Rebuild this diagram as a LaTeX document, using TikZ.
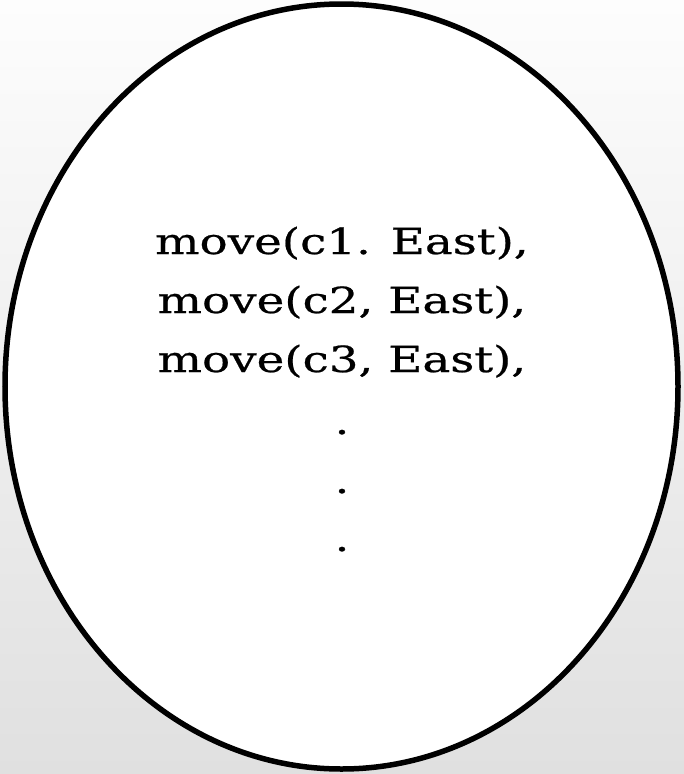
\documentclass[tikz,border=0pt]{standalone}
\usepackage{fontspec}
\setmainfont[FakeStretch=1.3,FakeBold=0.6]{DejaVu Serif}
\usetikzlibrary{shapes.geometric}
\begin{document}
\begin{tikzpicture}[x=1pt,y=-1pt,
  txt/.style={font=\fontsize{36}{40}\selectfont, anchor=base, inner sep=0pt, text=black},
  bubble/.style={draw=black, line width=5.5pt, fill=white}]
\useasboundingbox (0,0) rectangle (684,774);
\shade[top color={rgb,255:red,253;green,253;blue,253}, bottom color={rgb,255:red,224;green,224;blue,224}] (0,0) rectangle (684,774);
\node[bubble, ellipse, minimum width=673pt, minimum height=765pt, inner sep=0pt] (e) at (341.5,386.5) {};
\node[txt] (l1) at (342,254) {move(c1. East),};
\node[txt] (l2) at (342,313) {move(c2, East),};
\node[txt] (l3) at (342,372) {move(c3, East),};
\node[txt] (d1) at (342,434) {.};
\node[txt] (d2) at (342,493) {.};
\node[txt] (d3) at (342,551) {.};
\end{tikzpicture}
\end{document}
